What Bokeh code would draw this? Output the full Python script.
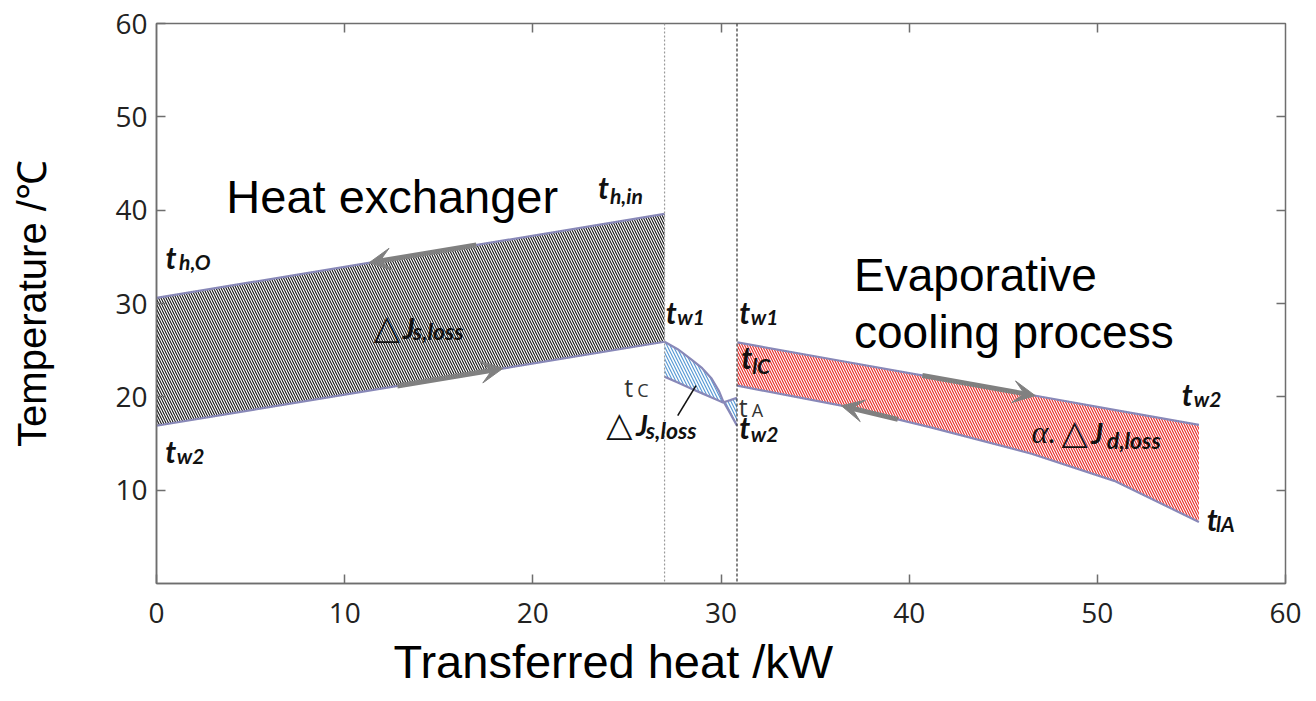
import numpy as np
from bokeh.plotting import figure
from bokeh.models import (Range1d, FixedTicker, LinearAxis, Label, Span, Arrow, VeeHead, Title)
from bokeh.embed import file_html
from bokeh.resources import INLINE

# ---------------- data ----------------
x_ticks = [0, 10, 20, 30, 40, 50, 60]
y_ticks = [10, 20, 30, 40, 50, 60]

# heat exchanger section
he_x = [0.0, 27.0]
he_th = [30.6, 39.6]      # hot side t_h,O -> t_h,in
he_tw = [16.9, 25.9]      # water t_w2 -> t_w1

# transition section (tc / tA and tw curve)
mid_x = [27.0, 27.7, 28.4, 29.0, 29.5, 29.9, 30.1, 30.5, 30.85]
mid_tw = [25.9, 25.1, 24.05, 23.07, 21.97, 20.58, 19.6, 18.2, 16.9]
mid_tc = [22.15, 21.53, 20.9, 20.37, 19.93, 19.57, 19.4, 19.65, 19.9]

# evaporative cooling section
ev_x = [30.87, 36.4, 41.2, 46.5, 50.9, 55.4]
ev_tw = [25.83, 23.84, 22.11, 20.2, 18.61, 16.99]
ev_tl = [21.2, 19.05, 16.7, 13.9, 11.0, 6.6]

dividers = [27.0, 30.85]
leader_x = [27.7, 28.67]
leader_y = [17.98, 21.2]

# arrows: (x_start, x_end) along a given line
arr_he_top = (17.0, 11.3)
arr_he_bot = (12.8, 18.4)
arr_ev_top = (40.7, 46.7)
arr_ev_bot = (39.4, 36.4)

# ---------------- figure ----------------
p = figure(width=1316, height=701, output_backend="svg", toolbar_location=None,
           x_range=Range1d(0, 60), y_range=Range1d(0, 60),
           min_border_left=156, min_border_right=31, min_border_top=23, min_border_bottom=118)
p.background_fill_color = "white"
p.border_fill_color = "white"
p.outline_line_color = "#6e6e6e"
p.outline_line_width = 1.5
p.xgrid.visible = False
p.ygrid.visible = False

TICK_FONT = "Open Sans"
for ax in p.xaxis:
    ax.ticker = FixedTicker(ticks=x_ticks)
for ax in p.yaxis:
    ax.ticker = FixedTicker(ticks=y_ticks)
for ax in list(p.xaxis) + list(p.yaxis):
    ax.axis_line_color = "#6e6e6e"
    ax.axis_line_width = 1.5
    ax.major_tick_in = 9
    ax.major_tick_out = 0
    ax.major_tick_line_color = "#6e6e6e"
    ax.major_tick_line_width = 1.5
    ax.minor_tick_line_color = None
    ax.major_label_text_font = TICK_FONT
    ax.major_label_text_font_size = "28px"
    ax.major_label_text_color = "#222222"
p.xaxis.major_label_standoff = 19
p.yaxis.major_label_standoff = 9

# y axis title
p.yaxis.axis_label = "Temperature /\u2103"
p.yaxis.axis_label_text_font = "Liberation Sans"
p.yaxis.axis_label_text_font_size = "40px"
p.yaxis.axis_label_text_font_style = "normal"
p.yaxis.axis_label_text_color = "#000000"
p.yaxis.axis_label_standoff = 58

top_ax = LinearAxis(ticker=FixedTicker(ticks=x_ticks[1:-1]), major_label_text_color=None,
                    axis_line_color=None, major_tick_in=9, major_tick_out=0,
                    major_tick_line_color="#6e6e6e", major_tick_line_width=1.5,
                    minor_tick_line_color=None, major_label_standoff=0)
right_ax = LinearAxis(ticker=FixedTicker(ticks=y_ticks[:-1]), major_label_text_color=None,
                      axis_line_color=None, major_tick_in=9, major_tick_out=0,
                      major_tick_line_color="#6e6e6e", major_tick_line_width=1.5,
                      minor_tick_line_color=None, major_label_standoff=0)
p.add_layout(top_ax, "above")
p.add_layout(right_ax, "right")

# x axis title
p.add_layout(Title(text="Transferred heat /kW", align="left", offset=237, standoff=14,
                   text_font="Liberation Sans", text_font_size="47px", text_line_height=0.75,
                   text_font_style="normal", text_color="#000000"), "below")

# hatched regions
p.varea(x=he_x, y1=he_tw, y2=he_th, fill_alpha=0, hatch_pattern="\\",
        hatch_color="#151515", hatch_scale=5, hatch_weight=1.1)
p.varea(x=mid_x, y1=mid_tc, y2=mid_tw, fill_alpha=0, hatch_pattern="\\",
        hatch_color="#5b9bd5", hatch_scale=6, hatch_weight=1.2)
p.varea(x=ev_x, y1=ev_tl, y2=ev_tw, fill_alpha=0, hatch_pattern="\\",
        hatch_color="#e8302c", hatch_scale=5, hatch_weight=1.2)

# divider lines
p.add_layout(Span(location=dividers[0], dimension="height", line_color="#9a9a9a",
                  line_dash="2 2", line_width=1.2))
p.add_layout(Span(location=dividers[1], dimension="height", line_color="#333333",
                  line_dash="3 2", line_width=1.2))

LINE_C = "#8888b8"
for xs, ys in [(he_x, he_th), (he_x, he_tw), (mid_x, mid_tw), (mid_x, mid_tc),
               (ev_x, ev_tw), (ev_x, ev_tl)]:
    p.line(xs, ys, line_color=LINE_C, line_width=2.2)

p.line(leader_x, leader_y, line_color="#111111", line_width=1.6)

# arrows along lines
ARROW_C = "#808080"
def arrow_on(xs, ys, pair):
    x0, x1 = pair
    y0 = float(np.interp(x0, xs, ys))
    y1 = float(np.interp(x1, xs, ys))
    p.add_layout(Arrow(x_start=x0, y_start=y0, x_end=x1, y_end=y1,
                       line_color=ARROW_C, line_width=5,
                       end=VeeHead(size=22, fill_color=ARROW_C, line_color=ARROW_C, line_width=1)))

arrow_on(he_x, he_th, arr_he_top)
arrow_on(he_x, he_tw, arr_he_bot)
arrow_on(ev_x, ev_tw, arr_ev_top)
arrow_on(ev_x, ev_tl, arr_ev_bot)

# ---------------- labels ----------------
PX_PER_UNIT = 9.33   # vertical pixels per degree (used only to nudge text baselines)

def lab(x, y, text, size, font="Lato", style="bold italic", color="#111111",
        angle=0.0, align="left", lift=0.34):
    p.add_layout(Label(x=x, y=y + lift * size / PX_PER_UNIT, text=text, text_font=font,
                       text_font_size=f"{size}px", text_font_style=style,
                       text_color=color, angle=angle, text_align=align,
                       text_baseline="alphabetic"))

def tsub(x, y, sub, sx, sy):
    lab(x, y, "t", 30)
    lab(sx, sy, sub, 21)

tsub(23.46, 41.34, "h,in", 24.1, 40.8)
tsub(0.48, 33.87, "h,O", 1.2, 33.7)
tsub(0.46, 13.15, "w2", 1.08, 12.97)
tsub(27.07, 27.97, "w1", 27.68, 27.8)
tsub(30.97, 27.97, "w1", 31.58, 27.8)
tsub(30.97, 15.65, "w2", 31.58, 15.3)
tsub(31.07, 23.15, "lC", 31.66, 22.6)
tsub(54.48, 19.23, "w2", 55.12, 19.05)
tsub(55.81, 5.83, "lA", 56.3, 5.65)

def dj(xd, xj, xs, y, ys, sub):
    lab(xd, y, "\u25b3", 34, font="DejaVu Sans", style="normal", lift=0.3)
    lab(xj, y, "J", 29)
    lab(xs, ys, sub, 23)

dj(11.55, 13.09, 13.62, 26.37, 26.2, "s,loss")
dj(23.9, 25.48, 26.0, 16.0, 15.65, "s,loss")
lab(46.5, 15.11, "\u03b1.", 32, font="Liberation Serif", style="italic")
dj(48.1, 49.68, 50.5, 15.11, 14.58, "d,loss")

lab(24.86, 20.12, "t", 25, font="Open Sans", style="normal", color="#333333")
lab(25.55, 20.12, "C", 18, font="Open Sans", style="normal", color="#333333")
lab(30.94, 17.97, "t", 25, font="Open Sans", style="normal", color="#333333")
lab(31.63, 17.97, "A", 18, font="Open Sans", style="normal", color="#333333")

BIG = "Liberation Sans"
lab(3.71, 39.76, "Heat exchanger", 47, font=BIG, style="normal", color="#000000")
lab(37.07, 31.37, "Evaporative", 46, font=BIG, style="normal", color="#000000")
lab(37.07, 25.29, "cooling process", 46, font=BIG, style="normal", color="#000000")

open("out.html", "w").write(file_html(p, INLINE))
